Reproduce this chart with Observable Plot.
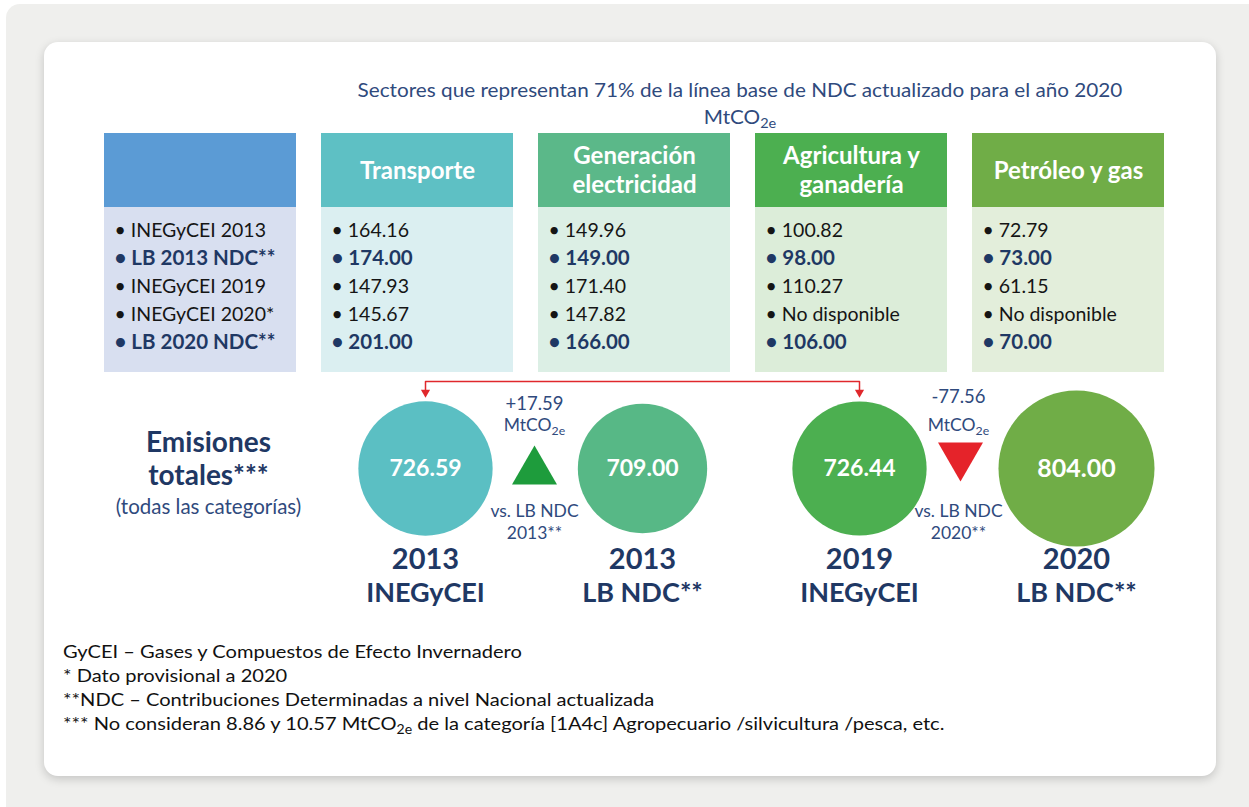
<!DOCTYPE html>
<html><head><meta charset="utf-8">
<script src="https://cdn.jsdelivr.net/npm/d3@7"></script>
<script src="https://cdn.jsdelivr.net/npm/@observablehq/plot@0.6"></script>
<style>
html,body{margin:0;padding:0;background:#fff;width:1249px;height:807px;overflow:hidden;font-family:Lato,"Open Sans",sans-serif;}
#bg{position:absolute;left:6px;top:4px;width:1243px;height:803px;background:#efefed;border-radius:14px 0 0 0;}
#card{position:absolute;left:44px;top:42px;width:1172px;height:734px;background:#fff;border-radius:14px;box-shadow:0 3px 10px rgba(0,0,0,0.18);}
#title{position:absolute;left:290px;width:900px;top:76px;text-align:center;color:#2f4a7d;font-size:19px;line-height:27px;transform:scaleX(1.09);transform-origin:450px 0;}
#table{position:absolute;left:0;top:133px;}
#bubbles{position:absolute;left:0;top:372px;}
#notes{position:absolute;left:63px;top:639px;font-size:18px;line-height:24px;color:#111;transform:scaleX(1.115);transform-origin:0 0;white-space:nowrap;}
sub{font-size:70%;vertical-align:-0.3em;line-height:0;}
svg{overflow:visible;}
</style></head><body>
<div id="bg"></div>
<div id="card"></div>
<div id="title">Sectores que representan 71% de la línea base de NDC actualizado para el año 2020<br>MtCO<sub>2e</sub></div>
<div id="table"></div>
<div id="bubbles"></div>
<div id="notes">
<div>GyCEI – Gases y Compuestos de Efecto Invernadero</div>
<div>* Dato provisional a 2020</div>
<div>**NDC – Contribuciones Determinadas a nivel Nacional actualizada</div>
<div>*** No consideran 8.86 y 10.57 MtCO<sub>2e</sub> de la categoría [1A4c] Agropecuario /silvicultura /pesca, etc.</div>
</div>
<script>
// ---------- data ----------
const rowLabels = ["INEGyCEI 2013", "LB 2013 NDC**", "INEGyCEI 2019", "INEGyCEI 2020*", "LB 2020 NDC**"];
const boldRows = ["LB 2013 NDC**", "LB 2020 NDC**"];
const sectors = ["Transporte", "Generación\nelectricidad", "Agricultura y\nganadería", "Petróleo y gas"];
const transporte = [164.16, 174.00, 147.93, 145.67, 201.00];
const generacion = [149.96, 149.00, 171.40, 147.82, 166.00];
const agricultura = [100.82, 98.00, 110.27, null, 106.00];
const petroleo = [72.79, 73.00, 61.15, null, 70.00];
const totals = [726.59, 709.00, 726.44, 804.00];
const totalYears = ["2013", "2013", "2019", "2020"];
const totalSources = ["INEGyCEI", "LB NDC**", "INEGyCEI", "LB NDC**"];
const deltas = ["+17.59", "-77.56"];
const deltaRefs = ["2013**", "2020**"];
const totalsLabel = "Emisiones\ntotales***";
const totalsSub = "(todas las categorías)";

// ---------- styles ----------
const headerColors = ["#5b9bd5", "#5ec0c4", "#5bb889", "#4caf50", "#70ad47"];
const bodyColors = ["#d8dff0", "#dbeff1", "#dcefe5", "#dcedd9", "#e3eedb"];
const circleColors = ["#5bbfc3", "#57b886", "#4caf50", "#70ad47"];
const navy = "#1f3864";
const blue = "#2f4a7d";
const font = "Lato, 'Open Sans', sans-serif";

// ---------- table ----------
const cols = ["label", ...sectors];
const seriesBySector = [transporte, generacion, agricultura, petroleo];
const cells = [];
rowLabels.forEach((r, i) => {
  cells.push({col: "label", row: r, text: "• " + r});
  seriesBySector.forEach((s, j) => {
    cells.push({col: sectors[j], row: r, text: "• " + (s[i] == null ? "No disponible" : s[i].toFixed(2))});
  });
});
const isBold = d => boldRows.includes(d.row);

const table = Plot.plot({
  width: 1249, height: 239,
  marginLeft: 103, marginRight: 84, marginTop: 0, marginBottom: 0,
  style: {fontFamily: font, background: "transparent"},
  x: {type: "band", domain: cols, paddingInner: 0.115, paddingOuter: 0, axis: null},
  y: {type: "band", domain: rowLabels, padding: 0, range: [80.5, 224.5], axis: null},
  marks: [
    Plot.cell(cols, {x: d => d, fill: (d, i) => headerColors[i], insetBottom: 165}),
    Plot.cell(cols, {x: d => d, fill: (d, i) => bodyColors[i], insetTop: 74}),
    Plot.text(sectors, {x: d => d, text: d => d, frameAnchor: "top", dy: 36, lineAnchor: "middle",
      fill: "white", fontWeight: "bold", fontSize: 24, lineHeight: 1.21}),
    Plot.text(cells.filter(d => !isBold(d)), {x: "col", y: "row", text: "text", textAnchor: "start",
      dx: -86, fontSize: 19.5, fill: "#151515"}),
    Plot.text(cells.filter(isBold), {x: "col", y: "row", text: "text", textAnchor: "start",
      dx: -86, fontSize: 20.5, fill: navy, fontWeight: "bold"})
  ]
});
document.getElementById("table").append(table);

// ---------- bubbles ----------
const keys = totals.map((v, i) => totalYears[i] + " " + totalSources[i]);
const bcols = ["label", ...keys];
const circles = totals.map((v, i) => ({key: keys[i], value: v, year: totalYears[i], source: totalSources[i], fill: circleColors[i]}));
const bracket = [
  {key: keys[0], lvl: "head"}, {key: keys[0], lvl: "bar"},
  {key: keys[2], lvl: "bar"}, {key: keys[2], lvl: "head"}
];
const comps = deltas.map((d, i) => ({key: keys[i * 2], delta: d, ref: deltaRefs[i]}));
const up = comps.filter(d => d.delta.startsWith("+"));
const down = comps.filter(d => !d.delta.startsWith("+"));

const compMarks = (data, color, rotate, triDx, triDy, textDx, deltaDy) => [
  Plot.dot(data, {x: "key", dx: triDx, frameAnchor: "top", dy: triDy, symbol: "triangle", r: 16.7, fill: color, rotate}),
  Plot.text(data, {x: "key", dx: textDx, frameAnchor: "top", dy: deltaDy, text: "delta", fontSize: 18.5, fill: blue, lineAnchor: "middle"}),
  Plot.text(data, {x: "key", dx: textDx, frameAnchor: "top", dy: 53, text: () => "MtCO2e", fontSize: 17.5, fill: blue, lineAnchor: "middle"}),
  Plot.text(data, {x: "key", dx: textDx, frameAnchor: "top", dy: 148, text: d => "vs. LB NDC\n" + d.ref, fontSize: 17.5, fill: blue, lineAnchor: "middle", lineHeight: 1.26})
];

const bubbles = Plot.plot({
  width: 1249, height: 240,
  marginLeft: 110, marginRight: 75.5, marginTop: 0, marginBottom: 0,
  style: {fontFamily: font, background: "transparent"},
  x: {type: "band", domain: bcols, paddingInner: 0.115, paddingOuter: 0, axis: null},
  y: {type: "point", domain: ["bar", "head"], range: [9, 20], padding: 0, axis: null},
  r: {type: "linear", domain: [640, 804], range: [55, 78]},
  marks: [
    Plot.line(bracket, {x: "key", y: "lvl", stroke: "#e0282c", strokeWidth: 1.5}),
    Plot.dot(bracket.filter(d => d.lvl === "head"), {x: "key", y: "lvl", symbol: "triangle", r: 3.4, fill: "#e0282c", rotate: 180}),
    Plot.dot(circles, {x: "key", r: "value", fill: "fill", frameAnchor: "top", dy: 96}),
    Plot.text(circles, {x: "key", text: d => d.value.toFixed(2), frameAnchor: "top", dy: 96, lineAnchor: "middle",
      fill: "white", fontWeight: "bold", fontSize: (d, i) => i === 3 ? 25 : 23}),
    Plot.text(circles, {x: "key", text: "year", frameAnchor: "top", dy: 187, lineAnchor: "middle", fontSize: 29, fontWeight: "bold", fill: navy}),
    Plot.text(circles, {x: "key", text: "source", frameAnchor: "top", dy: 221, lineAnchor: "middle", fontSize: 27, fontWeight: "bold", fill: navy}),
    Plot.text([totalsLabel], {x: () => "label", text: d => d, frameAnchor: "top", dy: 85, lineAnchor: "middle",
      fontSize: 28, fontWeight: "bold", fill: navy, lineHeight: 1.18}),
    Plot.text([totalsSub], {x: () => "label", text: d => d, frameAnchor: "top", dy: 135, lineAnchor: "middle", fontSize: 20.5, fill: blue}),
    ...compMarks(up, "#1e9c3c", 0, 109, 99, 109, 32),
    ...compMarks(down, "#e5232a", 180, 101, 83, 99, 25)
  ]
});
document.getElementById("bubbles").append(bubbles);

// subscripts for MtCO2e in SVG text
function subscriptify(root) {
  root.querySelectorAll("text, tspan").forEach(el => {
    if (el.childNodes.length === 1 && el.firstChild.nodeType === 3 && el.textContent.includes("MtCO2e")) {
      const t = el.textContent, i = t.indexOf("MtCO2e");
      el.textContent = "";
      el.append(t.slice(0, i + 4));
      const s = document.createElementNS("http://www.w3.org/2000/svg", "tspan");
      s.setAttribute("dy", "0.3em"); s.setAttribute("font-size", "70%"); s.textContent = "2e";
      el.append(s);
    }
  });
}
subscriptify(bubbles);
</script>
</body></html>
